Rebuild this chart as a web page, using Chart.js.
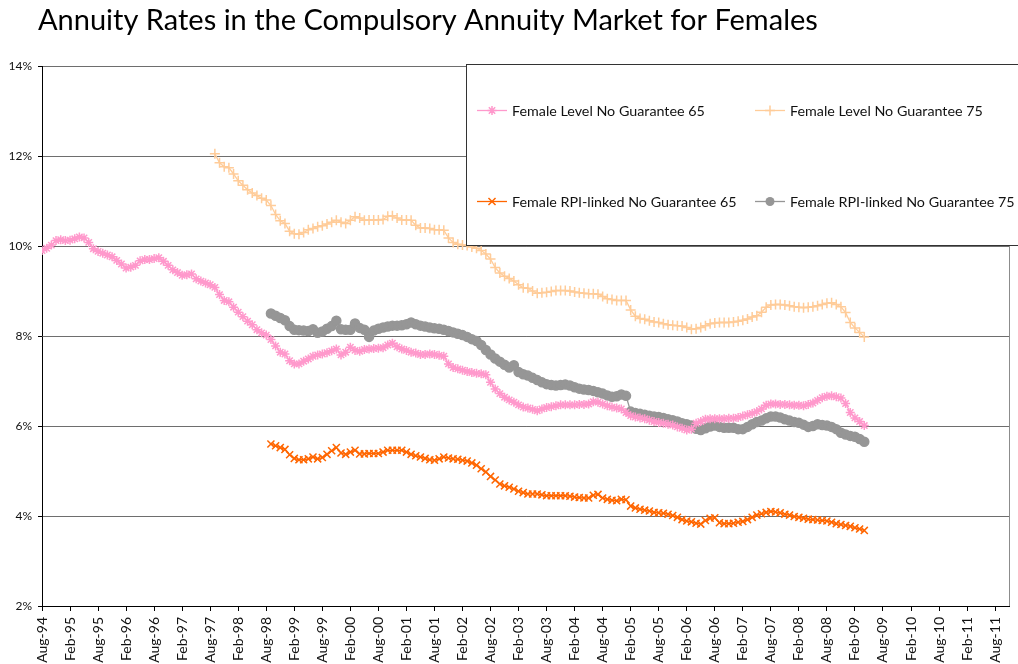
<!DOCTYPE html>
<html>
<head>
<meta charset="utf-8">
<script src="https://cdn.jsdelivr.net/npm/chart.js@4"></script>
<style>
  html, body { margin: 0; padding: 0; background: #fff; }
  #wrap { width: 1018px; height: 664px; position: relative; }
</style>
</head>
<body>
<div id="wrap"><canvas id="annuityChart" width="1018" height="664"></canvas></div>
<script>
// ── Data (month index 0 = Aug-94) ─────────────────────────────────────────
const xLabels = ['Aug-94','Feb-95','Aug-95','Feb-96','Aug-96','Feb-97','Aug-97','Feb-98','Aug-98',
  'Feb-99','Aug-99','Feb-00','Aug-00','Feb-01','Aug-01','Feb-02','Aug-02','Feb-03','Aug-03',
  'Feb-04','Aug-04','Feb-05','Aug-05','Feb-06','Aug-06','Feb-07','Aug-07','Feb-08','Aug-08',
  'Feb-09','Aug-09','Feb-10','Aug-10','Feb-11','Aug-11'];
const yTicks = [2, 4, 6, 8, 10, 12, 14];

const level65Start = 0;
const level65 = [
  9.90, 9.95, 10.02, 10.12, 10.14, 10.12, 10.13, 10.16, 10.20, 10.18, 10.08, 9.94,
  9.88, 9.84, 9.80, 9.76, 9.68, 9.60, 9.51, 9.53, 9.57, 9.67, 9.70, 9.70,
  9.72, 9.74, 9.66, 9.57, 9.47, 9.41, 9.35, 9.36, 9.38, 9.27, 9.22, 9.18,
  9.14, 9.08, 8.92, 8.79, 8.76, 8.64, 8.53, 8.43, 8.33, 8.25, 8.14, 8.07,
  8.02, 7.92, 7.78, 7.64, 7.60, 7.45, 7.38, 7.38, 7.44, 7.49, 7.55, 7.58,
  7.60, 7.63, 7.67, 7.71, 7.58, 7.64, 7.75, 7.68, 7.66, 7.70, 7.71, 7.72,
  7.73, 7.74, 7.80, 7.84, 7.76, 7.71, 7.68, 7.64, 7.62, 7.59, 7.59, 7.60,
  7.59, 7.57, 7.55, 7.38, 7.30, 7.27, 7.24, 7.21, 7.19, 7.17, 7.16, 7.14,
  6.97, 6.82, 6.72, 6.64, 6.58, 6.53, 6.47, 6.42, 6.40, 6.37, 6.34, 6.38,
  6.41, 6.43, 6.45, 6.47, 6.47, 6.47, 6.47, 6.48, 6.48, 6.49, 6.54, 6.53,
  6.49, 6.45, 6.42, 6.40, 6.38, 6.30, 6.23, 6.20, 6.18, 6.16, 6.13, 6.10,
  6.08, 6.06, 6.04, 6.02, 5.98, 5.95, 5.91, 5.93, 6.06, 6.10, 6.15, 6.16,
  6.16, 6.16, 6.16, 6.17, 6.17, 6.19, 6.22, 6.25, 6.28, 6.32, 6.38, 6.46,
  6.49, 6.49, 6.48, 6.48, 6.47, 6.46, 6.46, 6.45, 6.48, 6.51, 6.57, 6.63,
  6.66, 6.67, 6.65, 6.62, 6.50, 6.30, 6.18, 6.10, 6.01
];

const level75Start = 37;
const level75 = [
  12.05, 11.85, 11.76, 11.74, 11.60, 11.45, 11.35, 11.25, 11.18, 11.12, 11.06,
  11.02, 10.90, 10.70, 10.56, 10.50, 10.33, 10.27, 10.26, 10.30, 10.36, 10.39, 10.43,
  10.45, 10.49, 10.53, 10.57, 10.53, 10.50, 10.57, 10.65, 10.62, 10.57, 10.58, 10.58,
  10.58, 10.59, 10.66, 10.67, 10.62, 10.58, 10.58, 10.57, 10.46, 10.40, 10.40, 10.39,
  10.36, 10.36, 10.35, 10.18, 10.08, 10.04, 10.02, 10.01, 9.98, 9.95, 9.90, 9.82,
  9.71, 9.52, 9.40, 9.33, 9.28, 9.22, 9.14, 9.07, 9.06, 9.00, 8.95, 8.96,
  8.97, 8.99, 9.01, 9.01, 9.01, 9.00, 8.98, 8.96, 8.95, 8.94, 8.94, 8.93,
  8.88, 8.83, 8.81, 8.79, 8.79, 8.79, 8.58, 8.44, 8.39, 8.37, 8.34, 8.31,
  8.30, 8.27, 8.25, 8.24, 8.23, 8.22, 8.19, 8.15, 8.16, 8.19, 8.23, 8.27,
  8.29, 8.30, 8.30, 8.30, 8.31, 8.33, 8.35, 8.38, 8.42, 8.45, 8.53, 8.64,
  8.69, 8.70, 8.70, 8.69, 8.67, 8.65, 8.64, 8.63, 8.64, 8.65, 8.67, 8.70,
  8.73, 8.74, 8.70, 8.65, 8.52, 8.30, 8.18, 8.08, 7.98
];

const rpi65Start = 49;
const rpi65 = [
  5.60, 5.56, 5.52, 5.48, 5.36, 5.28, 5.25, 5.25, 5.27, 5.31, 5.27,
  5.30, 5.37, 5.45, 5.52, 5.40, 5.37, 5.42, 5.46, 5.38, 5.38, 5.39, 5.39,
  5.39, 5.42, 5.46, 5.46, 5.46, 5.46, 5.42, 5.37, 5.34, 5.31, 5.28, 5.25,
  5.24, 5.27, 5.31, 5.29, 5.27, 5.26, 5.24, 5.22, 5.18, 5.13, 5.05, 4.98,
  4.88, 4.80, 4.71, 4.67, 4.64, 4.60, 4.55, 4.52, 4.49, 4.49, 4.49, 4.47,
  4.45, 4.45, 4.45, 4.45, 4.45, 4.44, 4.42, 4.41, 4.40, 4.40, 4.46, 4.48,
  4.40, 4.37, 4.35, 4.34, 4.37, 4.36, 4.22, 4.18, 4.15, 4.13, 4.11, 4.08,
  4.07, 4.06, 4.04, 4.01, 3.97, 3.92, 3.89, 3.87, 3.84, 3.82, 3.90, 3.95,
  3.96, 3.85, 3.83, 3.83, 3.84, 3.86, 3.88, 3.92, 3.97, 4.02, 4.05, 4.08,
  4.10, 4.09, 4.07, 4.04, 4.02, 3.99, 3.97, 3.95, 3.93, 3.92, 3.91, 3.90,
  3.89, 3.86, 3.83, 3.81, 3.79, 3.77, 3.74, 3.71, 3.68
];

const rpi75Start = 49;
const rpi75 = [
  8.50, 8.45, 8.40, 8.35, 8.22, 8.14, 8.13, 8.12, 8.11, 8.15, 8.07,
  8.10, 8.16, 8.22, 8.34, 8.15, 8.14, 8.14, 8.28, 8.18, 8.14, 7.98, 8.12,
  8.16, 8.19, 8.21, 8.23, 8.23, 8.24, 8.26, 8.30, 8.26, 8.23, 8.21, 8.19,
  8.17, 8.16, 8.14, 8.11, 8.08, 8.05, 8.02, 7.98, 7.93, 7.89, 7.80, 7.69,
  7.59, 7.50, 7.43, 7.36, 7.30, 7.35, 7.20, 7.15, 7.12, 7.07, 7.02, 6.97,
  6.93, 6.91, 6.90, 6.91, 6.92, 6.90, 6.86, 6.83, 6.81, 6.80, 6.78, 6.75,
  6.72, 6.68, 6.65, 6.66, 6.70, 6.67, 6.32, 6.29, 6.27, 6.25, 6.23, 6.21,
  6.20, 6.18, 6.15, 6.13, 6.10, 6.06, 6.04, 6.01, 5.94, 5.91, 5.95, 5.99,
  6.01, 5.98, 5.96, 5.96, 5.96, 5.93, 5.93, 5.98, 6.04, 6.09, 6.12, 6.17,
  6.21, 6.21, 6.19, 6.15, 6.12, 6.09, 6.07, 6.03, 5.98, 6.00, 6.04, 6.02,
  6.01, 5.98, 5.93, 5.85, 5.81, 5.78, 5.76, 5.71, 5.65
];

const seriesNames = [
  'Female Level No Guarantee 65',
  'Female Level No Guarantee 75',
  'Female RPI-linked No Guarantee 65',
  'Female RPI-linked No Guarantee 75'
];

// ── Helpers ───────────────────────────────────────────────────────────────
const toPoints = (start, arr) => arr.map((v, i) => ({ x: start + i, y: v }));
const FONT = 'Lato, "Open Sans", sans-serif';

function mkSet(label, start, arr, color, style, radius) {
  return {
    label, data: toPoints(start, arr),
    borderColor: color, backgroundColor: color,
    borderWidth: 1.3, pointStyle: style, pointRadius: radius,
    pointBorderColor: color, pointBackgroundColor: color,
    pointBorderWidth: 1.5, pointHoverRadius: radius, tension: 0
  };
}

function drawMarker(ctx, style, x, y, r, color) {
  ctx.save();
  ctx.strokeStyle = color; ctx.fillStyle = color; ctx.lineWidth = 1.5;
  ctx.beginPath();
  if (style === 'circle') {
    ctx.arc(x, y, r, 0, Math.PI * 2); ctx.fill();
  } else {
    const d = r * Math.SQRT1_2;
    if (style === 'cross' || style === 'star') {
      ctx.moveTo(x - r, y); ctx.lineTo(x + r, y);
      ctx.moveTo(x, y - r); ctx.lineTo(x, y + r);
    }
    if (style === 'crossRot' || style === 'star') {
      ctx.moveTo(x - d, y - d); ctx.lineTo(x + d, y + d);
      ctx.moveTo(x - d, y + d); ctx.lineTo(x + d, y - d);
    }
    ctx.stroke();
  }
  ctx.restore();
}

// ── Title / frame / legend plugin ─────────────────────────────────────────
const decor = {
  id: 'decor',
  beforeDatasetsDraw(chart) {
    const { ctx, chartArea: a } = chart;
    ctx.save();
    ctx.strokeStyle = '#8c8c8c'; ctx.lineWidth = 1;
    ctx.beginPath(); ctx.moveTo(Math.round(a.right) + 0.5, a.top); ctx.lineTo(Math.round(a.right) + 0.5, a.bottom); ctx.stroke();
    ctx.restore();
  },
  afterDraw(chart) {
    const { ctx } = chart;
    ctx.save();
    ctx.fillStyle = '#000';
    ctx.font = `29px ${FONT}`;
    ctx.textBaseline = 'alphabetic';
    ctx.fillText('Annuity Rates in the Compulsory Annuity Market for Females', 38, 30);

    // legend box
    const bx = 466.5, by = 64.5, bw = 600, bh = 181;
    ctx.fillStyle = '#fff'; ctx.fillRect(bx, by, bw, bh);
    ctx.strokeStyle = '#333'; ctx.lineWidth = 1; ctx.strokeRect(bx, by, bw, bh);

    const cols = [477, 755], rows = [110, 201];
    ctx.font = `14.3px ${FONT}`;
    ctx.textBaseline = 'middle';
    chart.data.datasets.forEach((ds, i) => {
      const x = cols[i % 2], y = rows[Math.floor(i / 2)];
      ctx.strokeStyle = ds.borderColor; ctx.lineWidth = 1.3;
      ctx.beginPath(); ctx.moveTo(x, y + 0.5); ctx.lineTo(x + 30, y + 0.5); ctx.stroke();
      drawMarker(ctx, ds.pointStyle, x + 15, y + 0.5, ds.pointRadius, ds.borderColor);
      ctx.fillStyle = '#111';
      ctx.fillText(ds.label, x + 35, y + 1);
    });
    ctx.restore();
  }
};

// ── Chart ─────────────────────────────────────────────────────────────────
new Chart(document.getElementById('annuityChart'), {
  type: 'line',
  data: {
    datasets: [
      mkSet(seriesNames[0], level65Start, level65, '#ff99cc', 'star', 4.5),
      mkSet(seriesNames[1], level75Start, level75, '#ffcc99', 'cross', 5),
      mkSet(seriesNames[2], rpi65Start, rpi65, '#ff6600', 'crossRot', 5),
      mkSet(seriesNames[3], rpi75Start, rpi75, '#969696', 'circle', 4.5)
    ]
  },
  options: {
    responsive: false, animation: false,
    layout: { padding: { top: 66, right: 6, left: 0, bottom: 0 } },
    plugins: { legend: { display: false }, tooltip: { enabled: false } },
    scales: {
      x: {
        type: 'linear', min: 0, max: 207,
        afterBuildTicks: s => { s.ticks = xLabels.map((_, i) => ({ value: i * 6 })); },
        afterFit: s => { s.height = 58; },
        ticks: {
          autoSkip: false, minRotation: 90, maxRotation: 90, padding: 6,
          color: '#111', font: { family: FONT, size: 14 },
          callback: v => xLabels[Math.round(v / 6)]
        },
        grid: { drawOnChartArea: false, drawTicks: true, tickLength: 5, tickColor: '#000' },
        border: { color: '#000', width: 1 }
      },
      y: {
        min: 2, max: 14,
        afterBuildTicks: s => { s.ticks = yTicks.map(v => ({ value: v })); },
        afterFit: s => { s.width = 42; },
        ticks: { color: '#111', font: { family: FONT, size: 12 }, padding: 6, callback: v => v + '%' },
        grid: { color: '#6e6e6e', lineWidth: 1, tickLength: 4, tickColor: '#000' },
        border: { color: '#000', width: 1 }
      }
    }
  },
  plugins: [decor]
});
</script>
</body>
</html>
